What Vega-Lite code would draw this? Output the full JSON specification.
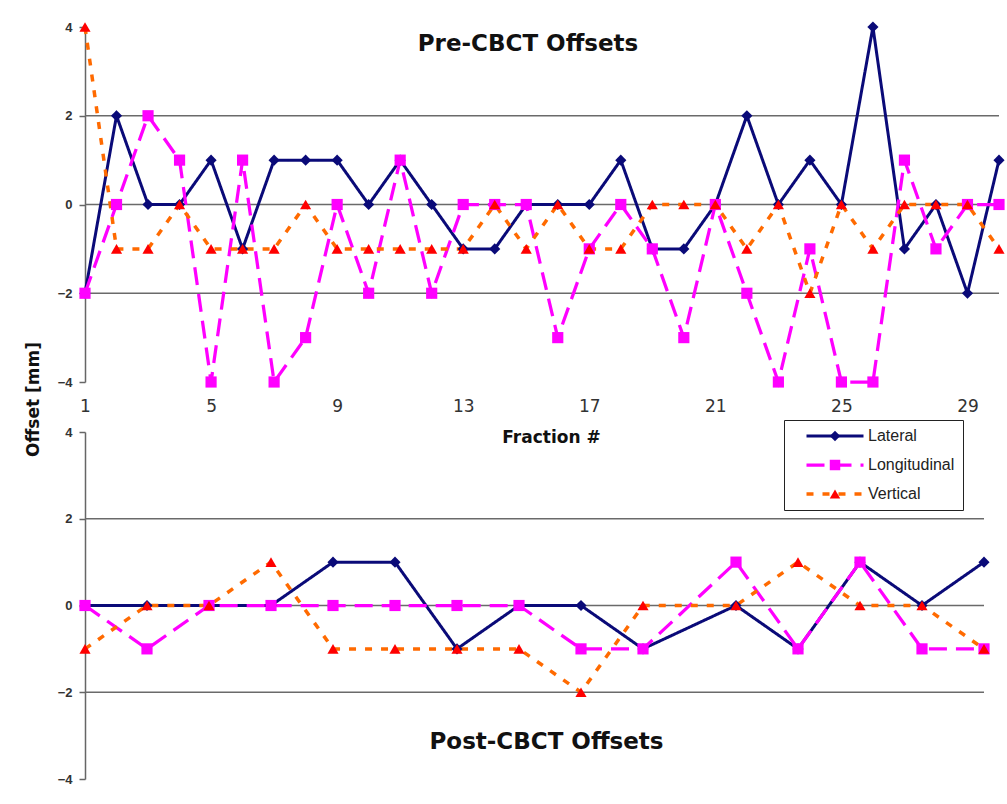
{
  "$schema": "https://vega.github.io/schema/vega-lite/v6.json",
  "padding": {"left": 24, "top": 20, "right": 0, "bottom": 0},
  "background": "white",
  "datasets": {
    "grid": [{"v": -2}, {"v": 0}, {"v": 2}],
    "pre": [
      {"f":1,"s":"Lateral","v":-2},{"f":2,"s":"Lateral","v":2},{"f":3,"s":"Lateral","v":0},{"f":4,"s":"Lateral","v":0},{"f":5,"s":"Lateral","v":1},{"f":6,"s":"Lateral","v":-1},{"f":7,"s":"Lateral","v":1},{"f":8,"s":"Lateral","v":1},{"f":9,"s":"Lateral","v":1},{"f":10,"s":"Lateral","v":0},{"f":11,"s":"Lateral","v":1},{"f":12,"s":"Lateral","v":0},{"f":13,"s":"Lateral","v":-1},{"f":14,"s":"Lateral","v":-1},{"f":15,"s":"Lateral","v":0},{"f":16,"s":"Lateral","v":0},{"f":17,"s":"Lateral","v":0},{"f":18,"s":"Lateral","v":1},{"f":19,"s":"Lateral","v":-1},{"f":20,"s":"Lateral","v":-1},{"f":21,"s":"Lateral","v":0},{"f":22,"s":"Lateral","v":2},{"f":23,"s":"Lateral","v":0},{"f":24,"s":"Lateral","v":1},{"f":25,"s":"Lateral","v":0},{"f":26,"s":"Lateral","v":4},{"f":27,"s":"Lateral","v":-1},{"f":28,"s":"Lateral","v":0},{"f":29,"s":"Lateral","v":-2},{"f":30,"s":"Lateral","v":1},
      {"f":1,"s":"Longitudinal","v":-2},{"f":2,"s":"Longitudinal","v":0},{"f":3,"s":"Longitudinal","v":2},{"f":4,"s":"Longitudinal","v":1},{"f":5,"s":"Longitudinal","v":-4},{"f":6,"s":"Longitudinal","v":1},{"f":7,"s":"Longitudinal","v":-4},{"f":8,"s":"Longitudinal","v":-3},{"f":9,"s":"Longitudinal","v":0},{"f":10,"s":"Longitudinal","v":-2},{"f":11,"s":"Longitudinal","v":1},{"f":12,"s":"Longitudinal","v":-2},{"f":13,"s":"Longitudinal","v":0},{"f":14,"s":"Longitudinal","v":0},{"f":15,"s":"Longitudinal","v":0},{"f":16,"s":"Longitudinal","v":-3},{"f":17,"s":"Longitudinal","v":-1},{"f":18,"s":"Longitudinal","v":0},{"f":19,"s":"Longitudinal","v":-1},{"f":20,"s":"Longitudinal","v":-3},{"f":21,"s":"Longitudinal","v":0},{"f":22,"s":"Longitudinal","v":-2},{"f":23,"s":"Longitudinal","v":-4},{"f":24,"s":"Longitudinal","v":-1},{"f":25,"s":"Longitudinal","v":-4},{"f":26,"s":"Longitudinal","v":-4},{"f":27,"s":"Longitudinal","v":1},{"f":28,"s":"Longitudinal","v":-1},{"f":29,"s":"Longitudinal","v":0},{"f":30,"s":"Longitudinal","v":0},
      {"f":1,"s":"Vertical","v":4},{"f":2,"s":"Vertical","v":-1},{"f":3,"s":"Vertical","v":-1},{"f":4,"s":"Vertical","v":0},{"f":5,"s":"Vertical","v":-1},{"f":6,"s":"Vertical","v":-1},{"f":7,"s":"Vertical","v":-1},{"f":8,"s":"Vertical","v":0},{"f":9,"s":"Vertical","v":-1},{"f":10,"s":"Vertical","v":-1},{"f":11,"s":"Vertical","v":-1},{"f":12,"s":"Vertical","v":-1},{"f":13,"s":"Vertical","v":-1},{"f":14,"s":"Vertical","v":0},{"f":15,"s":"Vertical","v":-1},{"f":16,"s":"Vertical","v":0},{"f":17,"s":"Vertical","v":-1},{"f":18,"s":"Vertical","v":-1},{"f":19,"s":"Vertical","v":0},{"f":20,"s":"Vertical","v":0},{"f":21,"s":"Vertical","v":0},{"f":22,"s":"Vertical","v":-1},{"f":23,"s":"Vertical","v":0},{"f":24,"s":"Vertical","v":-2},{"f":25,"s":"Vertical","v":0},{"f":26,"s":"Vertical","v":-1},{"f":27,"s":"Vertical","v":0},{"f":28,"s":"Vertical","v":0},{"f":29,"s":"Vertical","v":0},{"f":30,"s":"Vertical","v":-1}
    ],
    "post": [
      {"f":1,"s":"Lateral","v":0},{"f":3,"s":"Lateral","v":0},{"f":5,"s":"Lateral","v":0},{"f":7,"s":"Lateral","v":0},{"f":9,"s":"Lateral","v":1},{"f":11,"s":"Lateral","v":1},{"f":13,"s":"Lateral","v":-1},{"f":15,"s":"Lateral","v":0},{"f":17,"s":"Lateral","v":0},{"f":19,"s":"Lateral","v":-1},{"f":22,"s":"Lateral","v":0},{"f":24,"s":"Lateral","v":-1},{"f":26,"s":"Lateral","v":1},{"f":28,"s":"Lateral","v":0},{"f":30,"s":"Lateral","v":1},
      {"f":1,"s":"Longitudinal","v":0},{"f":3,"s":"Longitudinal","v":-1},{"f":5,"s":"Longitudinal","v":0},{"f":7,"s":"Longitudinal","v":0},{"f":9,"s":"Longitudinal","v":0},{"f":11,"s":"Longitudinal","v":0},{"f":13,"s":"Longitudinal","v":0},{"f":15,"s":"Longitudinal","v":0},{"f":17,"s":"Longitudinal","v":-1},{"f":19,"s":"Longitudinal","v":-1},{"f":22,"s":"Longitudinal","v":1},{"f":24,"s":"Longitudinal","v":-1},{"f":26,"s":"Longitudinal","v":1},{"f":28,"s":"Longitudinal","v":-1},{"f":30,"s":"Longitudinal","v":-1},
      {"f":1,"s":"Vertical","v":-1},{"f":3,"s":"Vertical","v":0},{"f":5,"s":"Vertical","v":0},{"f":7,"s":"Vertical","v":1},{"f":9,"s":"Vertical","v":-1},{"f":11,"s":"Vertical","v":-1},{"f":13,"s":"Vertical","v":-1},{"f":15,"s":"Vertical","v":-1},{"f":17,"s":"Vertical","v":-2},{"f":19,"s":"Vertical","v":0},{"f":22,"s":"Vertical","v":0},{"f":24,"s":"Vertical","v":1},{"f":26,"s":"Vertical","v":0},{"f":28,"s":"Vertical","v":0},{"f":30,"s":"Vertical","v":-1}
    ]
  },
  "vconcat": [
    {
      "width": 914,
      "height": 355,
      "title": {"text": "Pre-CBCT Offsets", "orient": "top", "anchor": "middle", "offset": -36, "dx": -14, "font": "DejaVu Sans", "fontSize": 23, "fontWeight": "bold", "color": "#111"},
      "encoding": {
        "y": {"field": "v", "type": "quantitative", "scale": {"domain": [-4, 4], "nice": false, "zero": false},
          "axis": {"values": [-4, -2, 0, 2, 4], "grid": false, "domainColor": "#666", "domainWidth": 1.5, "tickColor": "#666", "tickWidth": 1.5, "tickSize": 6, "labelPadding": 7, "labelFont": "Liberation Sans", "labelFontWeight": "bold", "labelFontSize": 13, "labelColor": "#333",
            "title": "Offset [mm]", "titleX": -43, "titleY": 372, "titleAlign": "center", "titleBaseline": "bottom", "titleFont": "DejaVu Sans", "titleFontSize": 17, "titleFontWeight": "bold", "titleColor": "#111"}}
      },
      "layer": [
        {"data": {"name": "grid"}, "mark": {"type": "rule", "color": "#6a6a6a", "strokeWidth": 1.5}, "encoding": {}},
        {"data": {"name": "pre"}, "mark": {"type": "line"},
          "encoding": {
            "x": {"field": "f", "type": "quantitative", "scale": {"domain": [1, 30], "nice": false, "zero": false},
              "axis": {"values": [1, 5, 9, 13, 17, 21, 25, 29], "domain": false, "ticks": false, "tickSize": 0, "grid": false, "labelPadding": 16, "labelFlush": false, "labelFont": "DejaVu Sans", "labelFontSize": 17, "labelColor": "#333",
                "title": "Fraction #", "titleX": 466, "titleY": 55, "titleBaseline": "middle", "titleFont": "DejaVu Sans", "titleFontSize": 17, "titleFontWeight": "bold", "titleColor": "#111"}},
            "color": {"field": "s", "type": "nominal", "scale": {"domain": ["Lateral", "Longitudinal", "Vertical"], "range": ["#0a0a78", "#ff00ff", "#ff6a00"]},
              "legend": {"title": null, "orient": "none", "legendX": 699, "legendY": 393, "strokeColor": "#222", "fillColor": "white", "padding": 8, "labelFont": "Liberation Sans", "labelFontSize": 16, "labelColor": "#222", "symbolType": "M-5.7,0L5.7,0", "symbolSize": 100, "symbolStrokeWidth": 3, "symbolOffset": 35, "labelOffset": 25, "rowPadding": 13}},
            "strokeDash": {"field": "s", "type": "nominal", "scale": {"domain": ["Lateral", "Longitudinal", "Vertical"], "range": [[1, 0], [18, 9], [7, 9]]}},
            "strokeWidth": {"field": "s", "type": "ordinal", "scale": {"domain": ["Lateral", "Longitudinal", "Vertical"], "range": [3, 3.5, 3.5]}, "legend": null}
          }},
        {"data": {"name": "pre"}, "mark": {"type": "point", "filled": true, "size": 125, "opacity": 1, "strokeWidth": 0},
          "encoding": {
            "x": {"field": "f", "type": "quantitative", "scale": {"domain": [1, 30], "nice": false, "zero": false},
              "axis": {"values": [1, 5, 9, 13, 17, 21, 25, 29], "domain": false, "ticks": false, "tickSize": 0, "grid": false, "labelPadding": 16, "labelFlush": false, "labelFont": "DejaVu Sans", "labelFontSize": 17, "labelColor": "#333",
                "title": "Fraction #", "titleX": 466, "titleY": 55, "titleBaseline": "middle", "titleFont": "DejaVu Sans", "titleFontSize": 17, "titleFontWeight": "bold", "titleColor": "#111"}},
            "shape": {"field": "s", "type": "nominal", "scale": {"domain": ["Lateral", "Longitudinal", "Vertical", " "], "range": ["diamond", "square", "triangle-up", "circle"]}},
            "fill": {"field": "s", "type": "nominal", "scale": {"domain": ["Lateral", "Longitudinal", "Vertical", " "], "range": ["#0a0a78", "#ff00ff", "#ff0000", "#ffffff"]},
              "legend": {"title": null, "orient": "none", "legendX": 699, "legendY": 393, "padding": 8, "labelFont": "Liberation Sans", "labelFontSize": 16, "labelOpacity": 0, "symbolSize": 110, "symbolStrokeWidth": 0, "symbolOffset": 35, "labelOffset": 25, "rowPadding": 13, "values": ["Lateral", "Longitudinal", "Vertical"]}}
          }}
      ]
    },
    {
      "width": 899,
      "height": 347,
      "title": {"text": "Post-CBCT Offsets", "orient": "bottom", "anchor": "middle", "offset": -55, "dx": 12, "font": "DejaVu Sans", "fontSize": 23, "fontWeight": "bold", "color": "#111"},
      "encoding": {
        "y": {"field": "v", "type": "quantitative", "scale": {"domain": [-4, 4], "nice": false, "zero": false},
          "axis": {"values": [-4, -2, 0, 2, 4], "grid": false, "domainColor": "#666", "domainWidth": 1.5, "tickColor": "#666", "tickWidth": 1.5, "tickSize": 6, "labelPadding": 7, "labelFont": "Liberation Sans", "labelFontWeight": "bold", "labelFontSize": 13, "labelColor": "#333", "title": null}}
      },
      "layer": [
        {"data": {"name": "grid"}, "mark": {"type": "rule", "color": "#6a6a6a", "strokeWidth": 1.5}, "encoding": {}},
        {"data": {"name": "post"}, "mark": {"type": "line"},
          "encoding": {
            "x": {"field": "f", "type": "quantitative", "scale": {"domain": [1, 30], "nice": false, "zero": false}, "axis": null},
            "color": {"field": "s", "type": "nominal", "scale": {"domain": ["Lateral", "Longitudinal", "Vertical"], "range": ["#0a0a78", "#ff00ff", "#ff6a00"]},
              "legend": {"title": null, "orient": "none", "legendX": 699, "legendY": 393, "strokeColor": "#222", "fillColor": "white", "padding": 8, "labelFont": "Liberation Sans", "labelFontSize": 16, "labelColor": "#222", "symbolType": "M-5.7,0L5.7,0", "symbolSize": 100, "symbolStrokeWidth": 3, "symbolOffset": 35, "labelOffset": 25, "rowPadding": 13}},
            "strokeDash": {"field": "s", "type": "nominal", "scale": {"domain": ["Lateral", "Longitudinal", "Vertical"], "range": [[1, 0], [18, 9], [7, 9]]}},
            "strokeWidth": {"field": "s", "type": "ordinal", "scale": {"domain": ["Lateral", "Longitudinal", "Vertical"], "range": [3, 3.5, 3.5]}, "legend": null}
          }},
        {"data": {"name": "post"}, "mark": {"type": "point", "filled": true, "size": 125, "opacity": 1, "strokeWidth": 0},
          "encoding": {
            "x": {"field": "f", "type": "quantitative", "scale": {"domain": [1, 30], "nice": false, "zero": false}, "axis": null},
            "shape": {"field": "s", "type": "nominal", "scale": {"domain": ["Lateral", "Longitudinal", "Vertical", " "], "range": ["diamond", "square", "triangle-up", "circle"]}},
            "fill": {"field": "s", "type": "nominal", "scale": {"domain": ["Lateral", "Longitudinal", "Vertical", " "], "range": ["#0a0a78", "#ff00ff", "#ff0000", "#ffffff"]},
              "legend": {"title": null, "orient": "none", "legendX": 699, "legendY": 393, "padding": 8, "labelFont": "Liberation Sans", "labelFontSize": 16, "labelOpacity": 0, "symbolSize": 110, "symbolStrokeWidth": 0, "symbolOffset": 35, "labelOffset": 25, "rowPadding": 13, "values": ["Lateral", "Longitudinal", "Vertical"]}}
          }}
      ]
    }
  ],
  "spacing": 50,
  "bounds": "flush",
  "resolve": {"scale": {"x": "independent", "y": "independent"}},
  "config": {"view": {"stroke": null}, "font": "DejaVu Sans"}
}
